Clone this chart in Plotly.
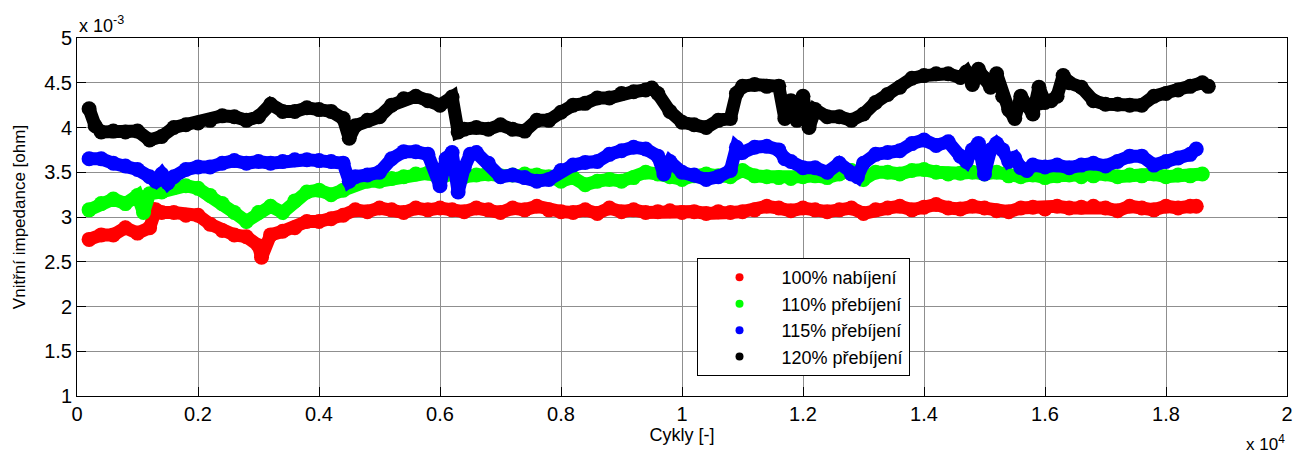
import plotly.graph_objects as go

# x in units of 10^4 cycles, y in units of 10^-3 ohm (as shown on the axes)

# 100% nabíjení (red)
red_x = [0.02, 0.04, 0.06, 0.08, 0.10, 0.12, 0.13, 0.14, 0.16, 0.18, 0.20, 0.22, 0.24, 0.26, 0.28, 0.30, 0.305, 0.32, 0.34, 0.36, 0.38,
         0.40, 0.42, 0.44, 0.46, 0.48, 0.50, 0.52, 0.54, 0.56, 0.58, 0.60, 0.62, 0.64, 0.66, 0.68, 0.70, 0.72, 0.74, 0.76,
         0.78, 0.80, 0.82, 0.84, 0.86, 0.88, 0.90, 0.92, 0.94, 0.96, 0.98, 1.00, 1.02, 1.04, 1.06, 1.08, 1.10, 1.12, 1.14,
         1.16, 1.18, 1.20, 1.22, 1.24, 1.26, 1.28, 1.30, 1.32, 1.34, 1.36, 1.38, 1.40, 1.42, 1.44, 1.46, 1.48, 1.50, 1.52,
         1.54, 1.56, 1.58, 1.60, 1.62, 1.64, 1.66, 1.68, 1.70, 1.72, 1.74, 1.76, 1.78, 1.80, 1.82, 1.84, 1.85]
red_y = [2.75, 2.80, 2.80, 2.88, 2.82, 2.88, 3.08, 3.05, 3.05, 3.02, 3.02, 2.92, 2.85, 2.80, 2.78, 2.68, 2.55, 2.80, 2.84, 2.88, 2.95,
         2.95, 2.98, 3.02, 3.08, 3.06, 3.10, 3.08, 3.05, 3.10, 3.08, 3.10, 3.08, 3.06, 3.10, 3.08, 3.05, 3.10, 3.08, 3.12,
         3.08, 3.06, 3.05, 3.08, 3.04, 3.10, 3.06, 3.08, 3.05, 3.06, 3.07, 3.05, 3.06, 3.04, 3.06, 3.05, 3.06, 3.08, 3.12,
         3.10, 3.07, 3.10, 3.08, 3.06, 3.08, 3.10, 3.04, 3.08, 3.10, 3.12, 3.08, 3.11, 3.14, 3.10, 3.09, 3.12, 3.10, 3.07,
         3.06, 3.10, 3.11, 3.09, 3.12, 3.10, 3.11, 3.12, 3.10, 3.07, 3.12, 3.10, 3.08, 3.12, 3.10, 3.12, 3.12]

# 110% přebíjení (green)
green_x = [0.02, 0.04, 0.06, 0.08, 0.10, 0.11, 0.12, 0.14, 0.16, 0.18, 0.20, 0.22, 0.24, 0.26, 0.28, 0.30, 0.32, 0.34, 0.36, 0.38,
           0.40, 0.42, 0.44, 0.46, 0.48, 0.50, 0.52, 0.54, 0.56, 0.58, 0.60, 0.62, 0.64, 0.66, 0.68, 0.70, 0.72, 0.74, 0.76,
           0.78, 0.80, 0.82, 0.84, 0.86, 0.88, 0.90, 0.92, 0.94, 0.96, 0.98, 1.00, 1.02, 1.04, 1.06, 1.08, 1.10, 1.12, 1.14,
           1.16, 1.18, 1.20, 1.22, 1.24, 1.26, 1.28, 1.30, 1.32, 1.34, 1.36, 1.38, 1.40, 1.42, 1.44, 1.46, 1.48, 1.50, 1.52,
           1.54, 1.56, 1.58, 1.60, 1.62, 1.64, 1.66, 1.68, 1.70, 1.72, 1.74, 1.76, 1.78, 1.80, 1.82, 1.84, 1.86]
green_y = [3.08, 3.15, 3.20, 3.15, 3.24, 3.05, 3.26, 3.28, 3.33, 3.35, 3.32, 3.24, 3.15, 3.05, 2.95, 3.05, 3.12, 3.05, 3.18, 3.28,
           3.30, 3.25, 3.30, 3.37, 3.40, 3.40, 3.43, 3.45, 3.48, 3.49, 3.44, 3.48, 3.45, 3.47, 3.48, 3.46, 3.47, 3.48, 3.47,
           3.45, 3.40, 3.44, 3.36, 3.40, 3.42, 3.40, 3.44, 3.50, 3.48, 3.45, 3.42, 3.46, 3.48, 3.46, 3.45, 3.52, 3.46, 3.45,
           3.44, 3.43, 3.45, 3.46, 3.44, 3.48, 3.52, 3.42, 3.50, 3.50, 3.48, 3.52, 3.53, 3.50, 3.48, 3.49, 3.50, 3.48, 3.50,
           3.46, 3.45, 3.47, 3.44, 3.46, 3.47, 3.45, 3.46, 3.48, 3.45, 3.47, 3.46, 3.48, 3.45, 3.47, 3.46, 3.48]

# 115% přebíjení (blue)
blue_x = [0.02, 0.04, 0.06, 0.08, 0.10, 0.12, 0.13, 0.14, 0.15, 0.16, 0.18, 0.20, 0.22, 0.24, 0.26, 0.28, 0.30, 0.32, 0.34, 0.36, 0.38,
          0.40, 0.42, 0.44, 0.45, 0.46, 0.48, 0.50, 0.52, 0.54, 0.56, 0.58, 0.60, 0.61, 0.62, 0.63, 0.64, 0.65, 0.66, 0.68, 0.70, 0.72, 0.74, 0.76,
          0.78, 0.80, 0.82, 0.84, 0.86, 0.88, 0.90, 0.92, 0.94, 0.96, 0.97, 0.98, 1.00, 1.02, 1.04, 1.06, 1.08, 1.09, 1.10, 1.12, 1.14,
          1.16, 1.17, 1.18, 1.20, 1.22, 1.24, 1.26, 1.28, 1.29, 1.30, 1.32, 1.34, 1.36, 1.38, 1.40, 1.42, 1.44, 1.46, 1.47, 1.48, 1.49, 1.50, 1.51, 1.52,
          1.53, 1.54, 1.55, 1.56, 1.57, 1.58, 1.60, 1.62, 1.64, 1.66, 1.68, 1.70, 1.72, 1.74, 1.76, 1.78, 1.80, 1.82, 1.84, 1.85]
blue_y = [3.65, 3.65, 3.60, 3.57, 3.53, 3.45, 3.40, 3.48, 3.38, 3.45, 3.53, 3.56, 3.56, 3.60, 3.63, 3.60, 3.62, 3.60, 3.62, 3.64, 3.64,
          3.63, 3.62, 3.60, 3.40, 3.45, 3.47, 3.50, 3.65, 3.73, 3.73, 3.70, 3.35, 3.65, 3.72, 3.28, 3.55, 3.70, 3.72, 3.60, 3.45, 3.47, 3.44, 3.40,
          3.42, 3.52, 3.58, 3.61, 3.62, 3.70, 3.74, 3.78, 3.76, 3.68, 3.48, 3.62, 3.50, 3.47, 3.42, 3.45, 3.52, 3.78, 3.72, 3.78, 3.79,
          3.75, 3.65, 3.62, 3.55, 3.55, 3.50, 3.60, 3.48, 3.45, 3.60, 3.70, 3.72, 3.74, 3.82, 3.86, 3.80, 3.84, 3.68, 3.62, 3.75, 3.82, 3.48, 3.75, 3.82,
          3.75, 3.62, 3.66, 3.55, 3.52, 3.58, 3.56, 3.58, 3.55, 3.58, 3.60, 3.57, 3.62, 3.68, 3.68, 3.58, 3.62, 3.66, 3.70, 3.76]

# 120% přebíjení (black)
black_x = [0.02, 0.03, 0.04, 0.06, 0.08, 0.10, 0.12, 0.14, 0.16, 0.18, 0.20, 0.22, 0.24, 0.26, 0.28, 0.30, 0.32, 0.34, 0.36, 0.38,
           0.40, 0.42, 0.44, 0.45, 0.46, 0.48, 0.50, 0.52, 0.54, 0.56, 0.58, 0.60, 0.62, 0.63, 0.64, 0.66, 0.68, 0.70, 0.72, 0.74, 0.76,
           0.78, 0.80, 0.82, 0.84, 0.86, 0.88, 0.90, 0.92, 0.94, 0.95, 0.96, 0.98, 1.00, 1.02, 1.04, 1.06, 1.08, 1.09, 1.10, 1.12, 1.14,
           1.16, 1.17, 1.18, 1.19, 1.20, 1.21, 1.22, 1.24, 1.26, 1.28, 1.30, 1.32, 1.34, 1.36, 1.38, 1.40, 1.42, 1.44, 1.46, 1.47, 1.48, 1.49, 1.50, 1.51, 1.52,
           1.53, 1.54, 1.55, 1.56, 1.57, 1.58, 1.59, 1.60, 1.61, 1.62, 1.63, 1.64, 1.66, 1.68, 1.70, 1.72, 1.74, 1.76, 1.78, 1.80, 1.82, 1.84, 1.86, 1.87]
black_y = [4.21, 4.02, 3.95, 3.96, 3.95, 3.96, 3.86, 3.90, 4.00, 4.03, 4.05, 4.08, 4.13, 4.12, 4.08, 4.12, 4.26, 4.18, 4.18, 4.22,
           4.20, 4.18, 4.10, 3.88, 4.02, 4.08, 4.12, 4.25, 4.32, 4.35, 4.30, 4.25, 4.34, 3.95, 3.98, 4.00, 3.98, 4.03, 3.98, 3.96, 4.08,
           4.08, 4.17, 4.25, 4.27, 4.33, 4.33, 4.38, 4.40, 4.42, 4.44, 4.38, 4.18, 4.06, 4.03, 4.00, 4.08, 4.10, 4.38, 4.46, 4.48, 4.46,
           4.46, 4.10, 4.30, 4.08, 4.35, 4.00, 4.20, 4.12, 4.12, 4.08, 4.15, 4.28, 4.37, 4.45, 4.55, 4.58, 4.60, 4.60, 4.56, 4.62, 4.48, 4.65, 4.55, 4.45, 4.60,
           4.35, 4.20, 4.10, 4.35, 4.25, 4.15, 4.45, 4.28, 4.30, 4.35, 4.58, 4.50, 4.45, 4.30, 4.26, 4.26, 4.25, 4.25, 4.35, 4.38, 4.42, 4.46, 4.50, 4.46]

series_names = ["100% nabíjení", "110% přebíjení", "115% přebíjení", "120% přebíjení"]
series_colors = ["#ff0000", "#00ff00", "#0000ff", "#000000"]

x_tickvals = [0, 0.2, 0.4, 0.6, 0.8, 1.0, 1.2, 1.4, 1.6, 1.8, 2.0]
x_ticktext = ["0", "0.2", "0.4", "0.6", "0.8", "1", "1.2", "1.4", "1.6", "1.8", "2"]
y_tickvals = [1, 1.5, 2, 2.5, 3, 3.5, 4, 4.5, 5]
y_ticktext = ["1", "1.5", "2", "2.5", "3", "3.5", "4", "4.5", "5"]

FONT = "Arial"

fig = go.Figure()
data = [(red_x, red_y), (green_x, green_y), (blue_x, blue_y), (black_x, black_y)]
for (xs, ys), name, color in zip(data, series_names, series_colors):
    fig.add_trace(go.Scatter(
        x=xs, y=ys, mode="lines+markers", name=name, showlegend=False,
        line=dict(color=color, width=13),
        marker=dict(color=color, size=15),
        hoverinfo="skip",
    ))
for name, color in zip(series_names, series_colors):
    fig.add_trace(go.Scatter(
        x=[None], y=[None], mode="markers", name=name,
        marker=dict(color=color, size=8),
    ))

grid_col = "#8f8f8f"
fig.update_layout(
    width=1306, height=457,
    margin=dict(l=77, r=19, t=38, b=61),
    paper_bgcolor="white", plot_bgcolor="white",
    font=dict(family=FONT, color="black", size=17),
    xaxis=dict(
        range=[0, 2], tickvals=x_tickvals, ticktext=x_ticktext,
        ticks="inside", ticklen=9, tickcolor="black", tickwidth=1,
        showline=True, linecolor="black", linewidth=1, mirror="ticks",
        showgrid=True, gridcolor=grid_col, gridwidth=1, zeroline=False,
        tickfont=dict(family=FONT, size=20),
        title=dict(text="Cykly [-]", font=dict(family=FONT, size=18), standoff=4),
    ),
    yaxis=dict(
        range=[1, 5], tickvals=y_tickvals, ticktext=y_ticktext,
        ticks="inside", ticklen=9, tickcolor="black", tickwidth=1,
        showline=True, linecolor="black", linewidth=1, mirror="ticks",
        showgrid=True, gridcolor=grid_col, gridwidth=1, zeroline=False,
        tickfont=dict(family=FONT, size=20),
        title=dict(text="Vnitřní impedance [ohm]", font=dict(family=FONT, size=17), standoff=14),
    ),
    legend=dict(
        x=0.512, y=0.385, xanchor="left", yanchor="top",
        bgcolor="white", bordercolor="black", borderwidth=1,
        font=dict(family=FONT, size=18), itemwidth=74,
    ),
    annotations=[
        dict(text="x 10<sup>-3</sup>", xref="paper", yref="paper", x=0.0, y=1.0,
             xanchor="left", yanchor="bottom", showarrow=False, font=dict(family=FONT, size=18)),
        dict(text="x 10<sup>4</sup>", xref="paper", yref="paper", x=1.0, y=-0.095,
             xanchor="right", yanchor="top", showarrow=False, font=dict(family=FONT, size=17)),
    ],
)

fig.write_html("out.html")
